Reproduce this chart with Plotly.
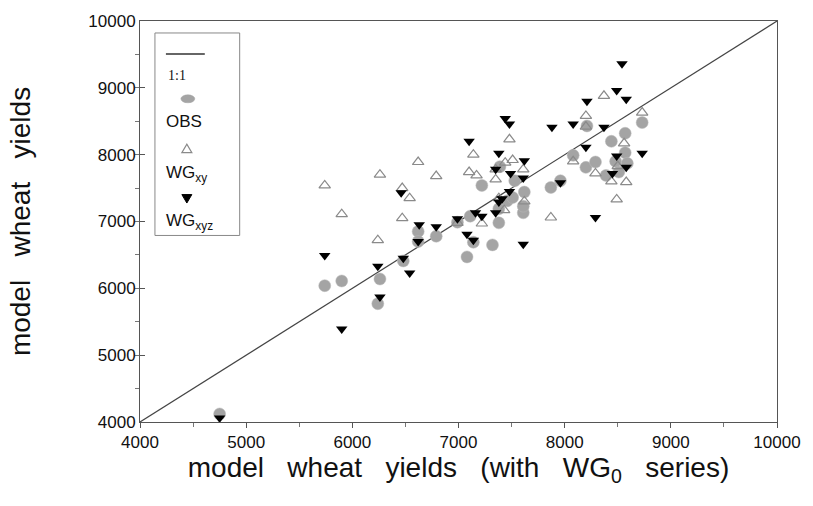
import plotly.graph_objects as go

# ---------------- data ----------------
obs_x = [4750, 5740, 5900, 6260, 6240, 6480, 6620, 6620, 6790, 6990, 7080, 7110, 7140, 7220, 7320,
         7380, 7380, 7390, 7460, 7510, 7530, 7610, 7620, 7610, 7870, 7960, 8080, 8200, 8210, 8290,
         8390, 8440, 8480, 8510, 8570, 8570, 8590, 8730]
obs_y = [4120, 6040, 6110, 6140, 5770, 6410, 6850, 6700, 6780, 6990, 6470, 7080, 6690, 7540, 6650,
         6980, 7190, 7820, 7310, 7360, 7610, 7130, 7440, 7230, 7510, 7610, 7990, 7810, 8430, 7890,
         7690, 8200, 7900, 7740, 8320, 8030, 7870, 8480]

xy_x = [5740, 5900, 6260, 6240, 6470, 6470, 6540, 6620, 6790, 6990, 7100, 7140, 7170, 7220, 7350,
        7350, 7380, 7430, 7440, 7480, 7510, 7610, 7620, 7870, 8080, 8200, 8200, 8290, 8370, 8440,
        8490, 8500, 8560, 8580, 8730]
xy_y = [7540, 7110, 7700, 6720, 7050, 7500, 7350, 7890, 7680, 6980, 7740, 8000, 7690, 6970, 7780,
        7630, 7350, 7170, 7880, 8230, 7920, 7780, 7300, 7060, 7900, 8580, 8420, 7720, 8880, 7600,
        7330, 7830, 8170, 7590, 8630]

xyz_x = [4750, 5740, 5900, 6240, 6260, 6460, 6480, 6540, 6630, 6620, 6790, 6990, 7100, 7080, 7140,
         7160, 7220, 7350, 7350, 7380, 7380, 7410, 7440, 7480, 7490, 7480, 7620, 7610, 7610, 7880,
         7960, 8080, 8200, 8210, 8290, 8370, 8450, 8490, 8490, 8540, 8580, 8580, 8730]
xyz_y = [4060, 6490, 5390, 6330, 5870, 7430, 6450, 6230, 6950, 6700, 6920, 7040, 8200, 6810, 6720,
         7130, 7080, 7130, 7780, 8020, 7290, 7340, 8540, 8460, 7720, 7450, 7910, 7650, 6660, 8410,
         7580, 8460, 8110, 8800, 7060, 8410, 7720, 8960, 7980, 9360, 8830, 7810, 8020]

one_to_one = [4000, 10000]
tick_vals = [4000, 5000, 6000, 7000, 8000, 9000, 10000]
tick_text = ["4000", "5000", "6000", "7000", "8000", "9000", "10000"]

# ---------------- figure ----------------
W, H = 813, 506
L, R, T, B = 140, 34, 20, 84
PW, PH = W - L - R, H - T - B

def px(xp):
    return (xp - L) / PW

def py(yp):
    return (H - B - yp) / PH

FONT = "Liberation Sans, Arial"
XGAP = "&nbsp;" * 3
YGAP = "&nbsp;" * 3

fig = go.Figure()
fig.add_trace(go.Scatter(x=one_to_one, y=one_to_one, mode="lines",
                         line=dict(color="#444444", width=1.2), hoverinfo="skip"))
fig.add_trace(go.Scatter(x=obs_x, y=obs_y, mode="markers", name="OBS",
                         marker=dict(symbol="circle", size=12, color="#a4a4a4",
                                     line=dict(color="#b8b8b8", width=0.5))))
fig.add_trace(go.Scatter(x=xy_x, y=xy_y, mode="markers", name="WGxy",
                         marker=dict(symbol="triangle-up-open", size=10, color="#8a8a8a",
                                     line=dict(color="#8a8a8a", width=1.2))))
fig.add_trace(go.Scatter(x=xyz_x, y=xyz_y, mode="markers", name="WGxyz",
                         marker=dict(symbol="triangle-down", size=10, color="#000000",
                                     line=dict(color="#000000", width=0))))

axis_common = dict(range=[4000, 10000], tickvals=tick_vals, ticktext=tick_text,
                   showgrid=False, zeroline=False, showline=True, mirror=True,
                   linecolor="#555555", linewidth=1, ticklen=5, tickcolor="#555555",
                   tickfont=dict(family=FONT, size=17, color="#111111"),
                   minor=dict(dtick=500, ticklen=4, tickcolor="#777777", showgrid=False))

fig.update_xaxes(**axis_common, ticks="outside",
                 title=dict(text=f"model{XGAP}wheat{XGAP}yields{XGAP}(with{XGAP}WG<sub>0</sub>{XGAP}series)",
                            font=dict(family=FONT, size=28, color="#111111"),
                            standoff=5))
fig.update_yaxes(**axis_common, ticks="inside",
                 title=dict(text=f"model{YGAP}wheat{YGAP}yields",
                            font=dict(family=FONT, size=28, color="#111111"),
                            standoff=49))

# ---------------- hand-drawn legend (symbol above text) ----------------
shapes = []
shapes.append(dict(type="rect", xref="paper", yref="paper",
                   x0=px(155), x1=px(240), y0=py(235), y1=py(32),
                   line=dict(color="#888888", width=1), fillcolor="white", layer="above"))
shapes.append(dict(type="line", xref="paper", yref="paper",
                   x0=px(166), x1=px(205), y0=py(53), y1=py(53),
                   line=dict(color="#333333", width=1.5), layer="above"))
shapes.append(dict(type="circle", xref="paper", yref="paper",
                   x0=px(181), x1=px(195), y0=py(102), y1=py(94),
                   line=dict(color="#a4a4a4", width=0.5), fillcolor="#a4a4a4", layer="above"))

def tri_path(cx, cy, up, s=5):
    if up:
        pts = [(cx - s, cy + s * 0.8), (cx + s, cy + s * 0.8), (cx, cy - s * 0.9)]
    else:
        pts = [(cx - s, cy - s * 0.8), (cx + s, cy - s * 0.8), (cx, cy + s * 0.9)]
    return "M " + " L ".join(f"{px(a):.5f},{py(b):.5f}" for a, b in pts) + " Z"

shapes.append(dict(type="path", xref="paper", yref="paper", path=tri_path(187, 148, True),
                   line=dict(color="#8a8a8a", width=1.2), fillcolor="white", layer="above"))
shapes.append(dict(type="path", xref="paper", yref="paper", path=tri_path(187, 198, False),
                   line=dict(color="#000000", width=1), fillcolor="#000000", layer="above"))

ann_font = dict(family=FONT, size=17, color="#111111")
annotations = [
    dict(text="1:1", x=px(166), y=py(75), xref="paper", yref="paper", showarrow=False,
         xanchor="left", yanchor="middle",
         font=dict(family="Liberation Serif, Times New Roman", size=14, color="#111111")),
    dict(text="OBS", x=px(164), y=py(121), xref="paper", yref="paper", showarrow=False,
         xanchor="left", yanchor="middle", font=ann_font),
    dict(text="WG<sub>xy</sub>", x=px(164), y=py(173), xref="paper", yref="paper", showarrow=False,
         xanchor="left", yanchor="middle", font=ann_font),
    dict(text="WG<sub>xyz</sub>", x=px(164), y=py(221), xref="paper", yref="paper", showarrow=False,
         xanchor="left", yanchor="middle", font=ann_font),
]

fig.update_layout(width=W, height=H, margin=dict(l=L, r=R, t=T, b=B),
                  plot_bgcolor="white", paper_bgcolor="white", showlegend=False,
                  shapes=shapes, annotations=annotations)

fig.write_html("out.html", config={"displayModeBar": False})

# remove the default page margin so the figure sits at the window origin
with open("out.html", "r", encoding="utf-8") as f:
    html = f.read()
html = html.replace("<head>", "<head><style>html,body{margin:0;padding:0;overflow:hidden;}</style>", 1)
with open("out.html", "w", encoding="utf-8") as f:
    f.write(html)
